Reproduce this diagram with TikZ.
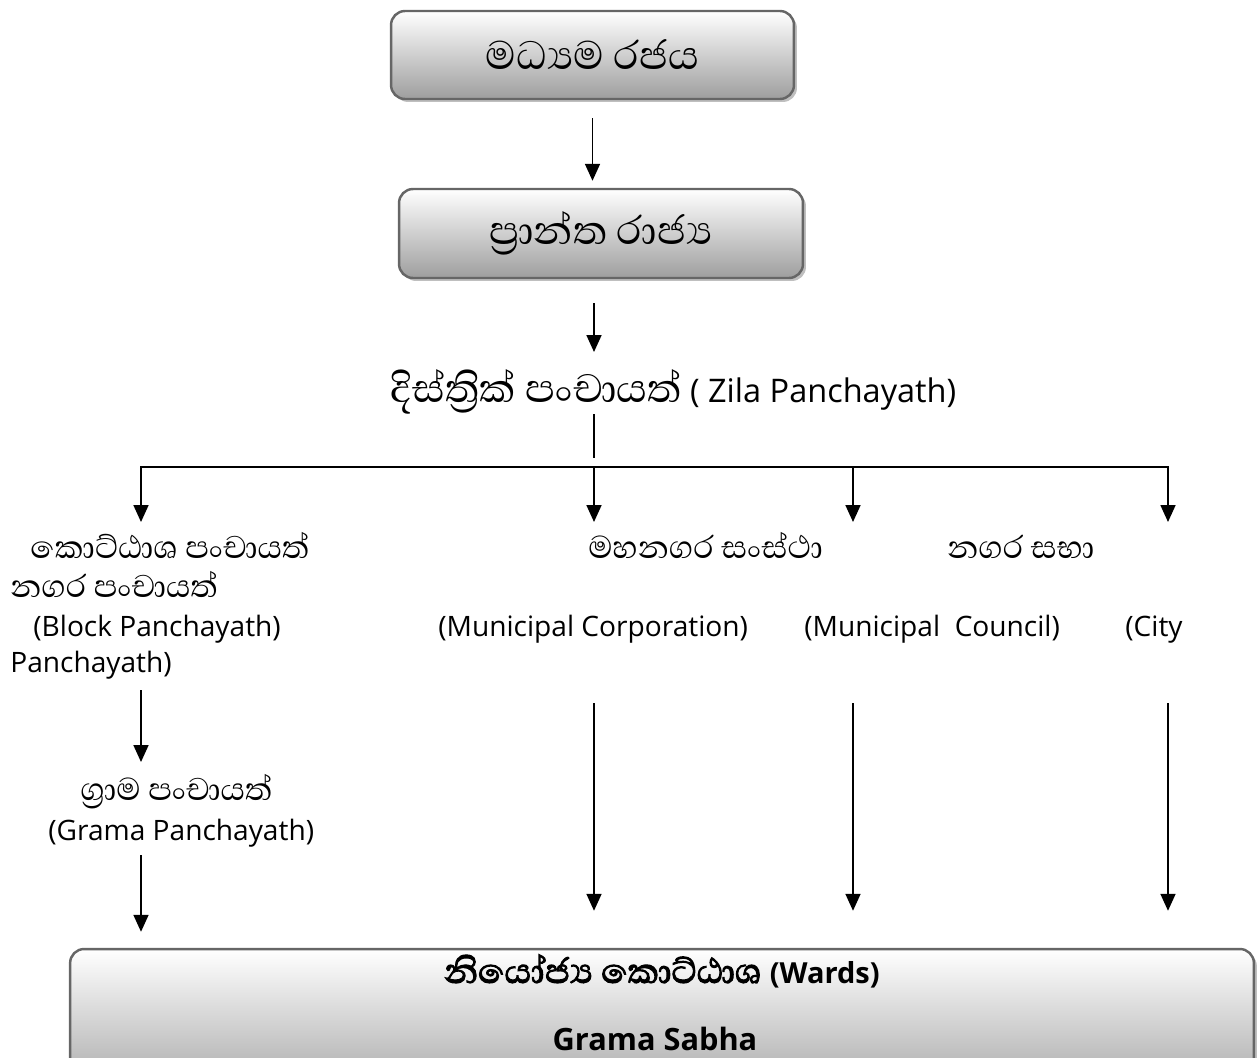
\documentclass[tikz,border=0pt]{standalone}
\usepackage{fontspec}
\setmainfont{Open Sans}
\newfontfamily\sinhfont[Script=Sinhala]{Abhaya Libre}
\newfontfamily\sinhbold[Script=Sinhala,FakeBold=2.5]{Abhaya Libre}
\usetikzlibrary{arrows.meta,shadows}

\tikzset{
  govbox/.style={draw=black!60, line width=1.4pt, rounded corners=0.28cm,
    top color=white, bottom color=black!38, inner sep=0pt,
    drop shadow={shadow xshift=1.7pt, shadow yshift=-1.7pt, fill=black!25, opacity=1}},
  arr/.style={-{Triangle[length=3.4mm,width=3mm]}, line width=1pt},
  lbl/.style={inner sep=0pt, anchor=base west, font=\fontsize{16}{19}\selectfont},
  sin/.style={inner sep=0pt, anchor=base west, font=\sinhfont\fontsize{23}{26}\selectfont},
}

\begin{document}
\begin{tikzpicture}[x=0.02cm,y=-0.02cm]
\useasboundingbox (0,0) rectangle (1258,1058);
\clip (0,0) rectangle (1258,1058);

\node[govbox, minimum width=8.06cm, minimum height=1.76cm, font=\sinhfont\fontsize{29}{32}\selectfont] (central) at (592.5,55) {මධ්^^^^200dයම රජය};
\node[govbox, minimum width=8.08cm, minimum height=1.78cm, font=\sinhfont\fontsize{29}{32}\selectfont] (prov) at (601,233.5) {ප්^^^^200dරාන්ත රාජ්^^^^200dය};

\node[lbl, font=\fontsize{18.5}{22}\selectfont] (zila) at (390,402) {{\sinhfont\fontsize{29}{32}\selectfont දිස්ත්^^^^200dරික් පංචායත්} ( Zila Panchayath)};

\node[sin] (kotta) at (30,558) {කොට්ඨාශ පංචායත්};
\node[sin] (nagarap) at (10,597) {නගර පංචායත්};
\node[lbl] (block) at (33,636) {(Block Panchayath)};
\node[lbl] (panch) at (10,672) {Panchayath)};

\node[sin] (mahan) at (588,558) {මහනගර සංස්ථා};
\node[sin] (nsabha) at (947,558) {නගර සභා};
\node[lbl] (corp) at (438,636) {(Municipal Corporation)};
\node[lbl] (council) at (804,636) {(Municipal~ Council)};
\node[lbl] (city) at (1125,636) {(City};

\node[sin] (grama) at (80,800) {ග්^^^^200dරාම පංචායත්};
\node[lbl] (gramap) at (48,840) {(Grama Panchayath)};

\node[govbox, minimum width=23.68cm, minimum height=3.2cm] (wards) at (662,1029) {};
\node[inner sep=0pt, anchor=base, font=\sinhbold\fontsize{25}{28}\selectfont] (wardsa) at (662,983) {නියෝජ්^^^^200dය කොට්ඨාශ {\rmfamily\bfseries\fontsize{16.5}{20}\selectfont (Wards)}};
\node[inner sep=0pt, anchor=base, font=\bfseries\fontsize{17.5}{21}\selectfont] (sabha) at (655,1050) {Grama Sabha};

\coordinate (split) at (594,467);
\coordinate (t1) at (141,522);
\coordinate (t2) at (594,522);
\coordinate (t3) at (853,522);
\coordinate (t4) at (1168,522);
\coordinate (z) at (594,352);
\coordinate (l1) at (141,690);
\coordinate (l2) at (141,855);
\coordinate (c2) at (594,703);
\coordinate (c3) at (853,703);
\coordinate (c4) at (1168,703);

\draw[arr, shorten <=0.36cm, shorten >=0.14cm] (central.south) -- (central.south |- prov.north);
\draw[arr, shorten <=0.48cm] (prov.south -| z) -- (z);
\draw[line width=1pt] (594,414) -- (594,458);
\draw[arr] (split) -| (t1);
\draw[arr] (split) -- (t2);
\draw[arr] (split) -| (t3);
\draw[arr] (split) -| (t4);
\draw[line width=1pt] (t1 |- split) -- (t4 |- split);

\draw[arr] (l1) -- (141,762);
\draw[arr, shorten >=0.32cm] (l2) -- (l2 |- wards.north);
\draw[arr, shorten >=0.74cm] (c2) -- (c2 |- wards.north);
\draw[arr, shorten >=0.74cm] (c3) -- (c3 |- wards.north);
\draw[arr, shorten >=0.74cm] (c4) -- (c4 |- wards.north);
\end{tikzpicture}
\end{document}
